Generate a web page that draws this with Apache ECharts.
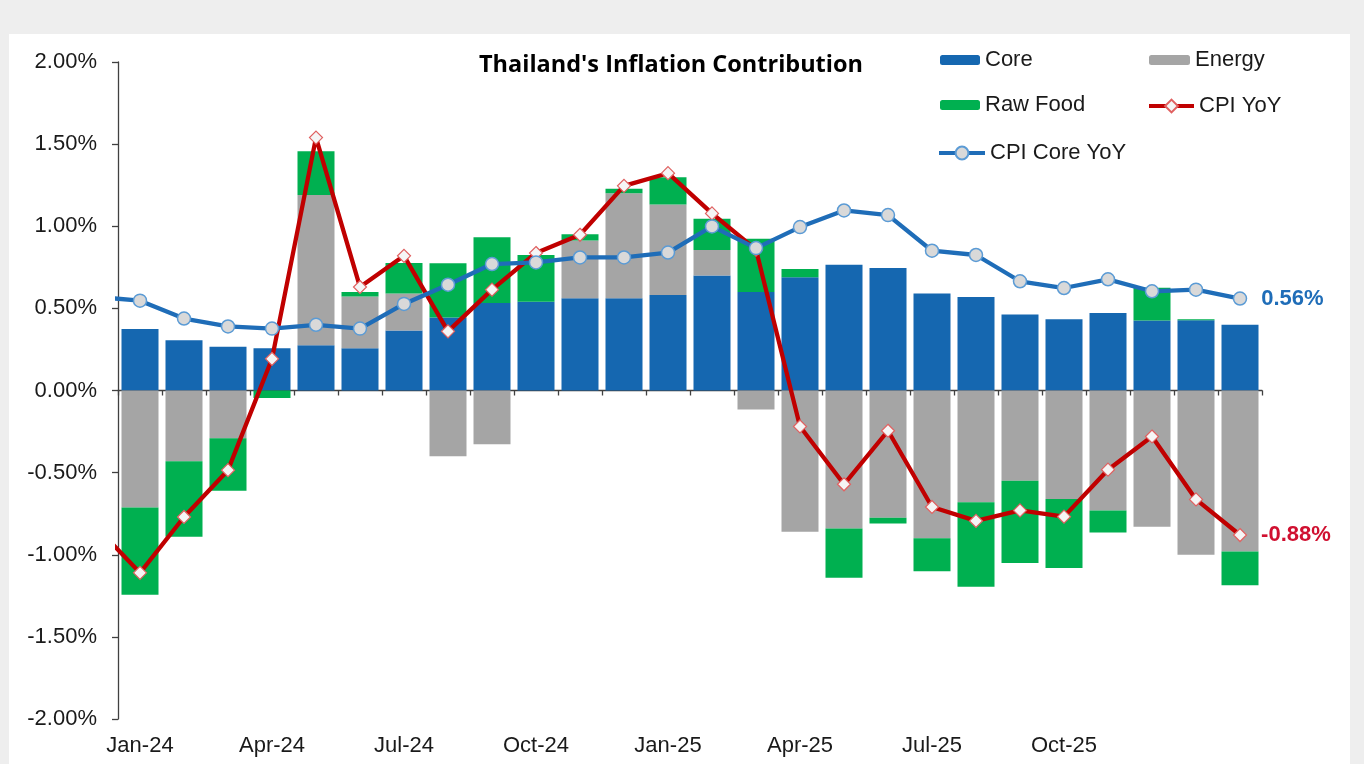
<!DOCTYPE html>
<html>
<head>
<meta charset="utf-8">
<script src="https://cdn.jsdelivr.net/npm/echarts@6/dist/echarts.min.js"></script>
<style>
  html, body { margin: 0; padding: 0; width: 1364px; height: 764px; background: #eeeeee; overflow: hidden; }
  #card { position: absolute; left: 9px; top: 34px; width: 1341px; height: 740px; background: #ffffff; }
  #chart { position: absolute; left: 0; top: 0; width: 1364px; height: 764px; }
</style>
</head>
<body>
<div id="card"></div>
<div id="chart"></div>
<script>
// Months of the bars (Jan-24 .. Feb-26)
const months = ['Jan-24','Feb-24','Mar-24','Apr-24','May-24','Jun-24','Jul-24','Aug-24','Sep-24','Oct-24','Nov-24','Dec-24',
                'Jan-25','Feb-25','Mar-25','Apr-25','May-25','Jun-25','Jul-25','Aug-25','Sep-25','Oct-25','Nov-25','Dec-25',
                'Jan-26','Feb-26'];
// Contributions (percentage points)
const core   = [0.375,0.306,0.266,0.257,0.276,0.257,0.365,0.445,0.533,0.541,0.561,0.561,
                0.582,0.700,0.600,0.689,0.766,0.746,0.590,0.570,0.462,0.434,0.472,0.426,0.428,0.401];
const energy = [-0.713,-0.430,-0.290,0.000,0.915,0.316,0.225,-0.400,-0.328,0.000,0.353,0.640,
                0.550,0.155,-0.115,-0.860,-0.840,-0.774,-0.900,-0.680,-0.550,-0.660,-0.730,-0.830,-1.000,-0.980];
const rawFood= [-0.530,-0.460,-0.320,-0.045,0.265,0.027,0.186,0.330,0.400,0.284,0.038,0.027,
                0.167,0.190,0.324,0.050,-0.300,-0.036,-0.200,-0.515,-0.500,-0.420,-0.135,0.200,0.006,-0.205];
// Lines: first value is Dec-23 (partly visible at the left edge)
const cpiYoY = [-0.83,-1.11,-0.77,-0.485,0.193,1.54,0.63,0.82,0.36,0.614,0.837,0.948,1.246,
                1.323,1.078,0.857,-0.219,-0.571,-0.245,-0.709,-0.794,-0.730,-0.768,-0.482,-0.280,-0.663,-0.88];
const coreYoY= [0.57,0.547,0.438,0.39,0.377,0.40,0.377,0.527,0.644,0.77,0.78,0.81,0.81,
                0.84,0.999,0.867,0.995,1.096,1.068,0.851,0.825,0.665,0.624,0.677,0.604,0.614,0.56];
const yTicks = { min: -2, max: 2, step: 0.5 };

const FONT = 'Liberation Sans, Arial, sans-serif';
const C_CORE = '#1567B0', C_EN = '#A5A5A5', C_FOOD = '#00B050', C_CPI = '#C00000', C_CYOY = '#1F6DB8';

function linePts(arr, labelColor) {
  return arr.map((v, i) => {
    const p = { value: [2 * i - 1, v] };
    if (i === arr.length - 1) {
      p.label = { show: true, position: 'right', distance: 14, color: labelColor, fontWeight: 'bold',
                  fontSize: 22, fontFamily: FONT, formatter: (q) => q.value[1].toFixed(2) + '%' };
    }
    return p;
  });
}

const chart = echarts.init(document.getElementById('chart'), null, { renderer: 'canvas' });
const legendText = { fontSize: 22, color: '#1a1a1a', fontFamily: FONT, lineHeight: 26 };
const legBase = { padding: 0, textStyle: legendText, selectedMode: false };
chart.setOption({
  backgroundColor: 'transparent',
  animation: false,
  title: {
    text: "Thailand's Inflation Contribution",
    left: 479, top: 53, padding: 0,
    textStyle: { fontFamily: 'Open Sans, Lato, sans-serif', fontWeight: 'bold', fontSize: 23.5, color: '#000' }
  },
  legend: [
    Object.assign({ data: ['Core'], left: 940, top: 47, itemWidth: 40, itemHeight: 10 }, legBase),
    Object.assign({ data: ['Energy'], left: 1149, top: 47, itemWidth: 41, itemHeight: 10 }, legBase),
    Object.assign({ data: ['Raw Food'], left: 940, top: 92, itemWidth: 40, itemHeight: 10 }, legBase),
    Object.assign({ data: ['CPI YoY'], left: 1147, top: 93, itemWidth: 45, itemHeight: 16,
                    lineStyle: { width: 4 } }, legBase),
    Object.assign({ data: ['CPI Core YoY'], left: 937, top: 140, itemWidth: 46, itemHeight: 16,
                    lineStyle: { width: 4 } }, legBase)
  ],
  grid: { left: 118, right: 102, top: 62, bottom: 45, containLabel: false },
  xAxis: [
    { type: 'value', min: 0, max: 52, interval: 2,
      axisLine: { show: true, onZero: true, lineStyle: { color: '#404040', width: 1.3 } },
      axisTick: { show: true, length: 5, lineStyle: { color: '#404040', width: 1.3 } },
      axisLabel: { show: false }, splitLine: { show: false } },
    { type: 'category', data: months, position: 'bottom', boundaryGap: true,
      axisLine: { show: false, onZero: false }, axisTick: { show: false },
      axisLabel: { interval: (idx) => idx % 3 === 0 && idx < 24, fontSize: 22, color: '#1a1a1a',
                   fontFamily: FONT, margin: 16 },
      splitLine: { show: false } }
  ],
  yAxis: {
    type: 'value', min: yTicks.min, max: yTicks.max, interval: yTicks.step,
    axisLine: { show: true, lineStyle: { color: '#404040', width: 1.3 } },
    axisTick: { show: true, length: 6, lineStyle: { color: '#404040', width: 1.3 } },
    axisLabel: { formatter: (v) => v.toFixed(2) + '%', fontSize: 22, color: '#1a1a1a', fontFamily: FONT, margin: 21 },
    splitLine: { show: false }
  },
  series: [
    { name: 'Core', type: 'bar', xAxisIndex: 1, stack: 'c', barWidth: 37, data: core,
      itemStyle: { color: C_CORE } },
    { name: 'Energy', type: 'bar', xAxisIndex: 1, stack: 'c', barWidth: 37, data: energy,
      itemStyle: { color: C_EN } },
    { name: 'Raw Food', type: 'bar', xAxisIndex: 1, stack: 'c', barWidth: 37, data: rawFood,
      itemStyle: { color: C_FOOD } },
    { name: 'CPI YoY', type: 'line', xAxisIndex: 0, data: linePts(cpiYoY, '#D01030'), clip: true,
      symbol: 'diamond', symbolSize: 13, showAllSymbol: true,
      lineStyle: { color: C_CPI, width: 4.3 },
      itemStyle: { color: '#F5F5F5', borderColor: '#E06060', borderWidth: 1.2 }, z: 5 },
    { name: 'CPI Core YoY', type: 'line', xAxisIndex: 0, data: linePts(coreYoY, C_CYOY), clip: true,
      symbol: 'circle', symbolSize: 13, showAllSymbol: true,
      lineStyle: { color: C_CYOY, width: 4.3 },
      itemStyle: { color: '#D9D9D9', borderColor: '#5B9BD5', borderWidth: 1.5 }, z: 6 }
  ]
});
</script>
</body>
</html>
